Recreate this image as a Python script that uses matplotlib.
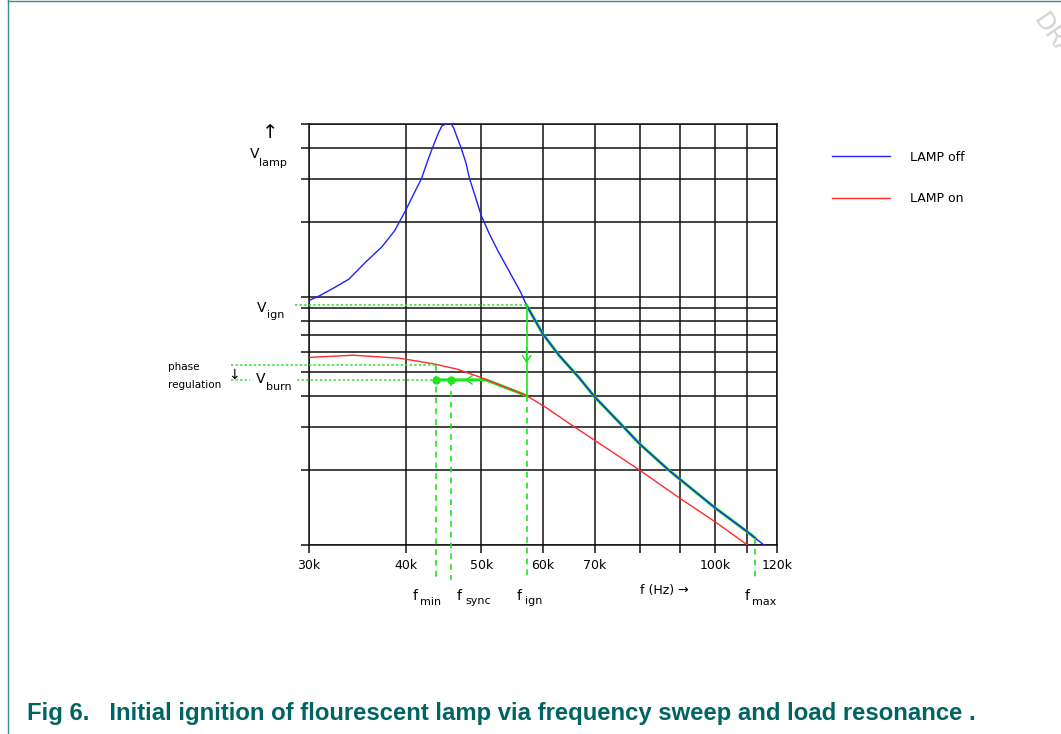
import numpy as np
import matplotlib
matplotlib.use("Agg")
import matplotlib.pyplot as plt
from matplotlib.lines import Line2D

# lamp voltage vs. switching frequency (kHz)
freq_off = [30, 31, 32.2, 33.8, 35.5, 37.25, 38.7, 40, 41.07, 41.9, 42.7, 43.3,
            44.0, 44.5, 45.2, 45.73, 46.1, 46.6, 47.1, 47.8, 48.3, 49.0, 50,
            51.2, 52.5, 53.8, 56.2, 57.2, 60, 63, 66.8, 70, 75.7, 80, 87.2,
            100, 110, 115.5]
volt_off = [9.66, 10.12, 10.8, 11.8, 13.8, 15.9, 18.5, 22.4, 26.5, 30, 35.6, 40,
            45.4, 48.9, 50, 49.9, 47.9, 43.6, 40, 34.6, 30, 26.1, 21.3,
            18.0, 15.4, 13.4, 10.45, 9.24, 7.1, 5.8, 4.73, 3.95, 3.06, 2.55, 2.0,
            1.41, 1.13, 1.0]

freq_on = [30, 34.2, 39.3, 43.6, 46.6, 50, 57.2, 60.6, 65.5, 70, 80, 90, 100, 110]
volt_on = [5.70, 5.82, 5.66, 5.36, 5.11, 4.73, 4.0, 3.58, 3.03, 2.64, 2.0, 1.545,
           1.24, 1.0]

# operating points
f_min, f_sync, f_ign, f_max = 43.7, 45.7, 57.2, 112.6
v_ign, v_burn, v_phase = 9.24, 4.63, 5.32
f_knee = 50.7          # where the burn voltage meets the LAMP on curve
f_arrow = 47.6         # sweep direction arrow on V_burn
v_arrow = 5.4          # drop arrow on f_ign

x_grid = [30, 40, 50, 60, 70, 80, 90, 100, 110, 120]
x_labels = ["30k", "40k", "50k", "60k", "70k", "", "", "100k", "", "120k"]
y_grid = [1, 2, 3, 4, 5, 6, 7, 8, 9, 10, 20, 30, 40, 50]

W, H = 1061, 734
GREEN = "#1ee61e"
TEAL = "#006463"


def fx(x):
    return x / W


def fy(y):
    return 1 - y / H


def loginterp(f, fs, vs):
    return np.exp(np.interp(np.log(f), np.log(fs), np.log(vs)))


fig = plt.figure(figsize=(W / 100, H / 100), dpi=100)
ax = fig.add_axes([fx(308.7), fy(545), fx(776.8 - 308.7), (545 - 123.5) / H])
ax.set_xscale("log")
ax.set_yscale("log")
ax.set_xlim(30, 120)
ax.set_ylim(1, 50)
ax.minorticks_off()
ax.set_xticks(x_grid, x_labels)
ax.set_yticks(y_grid, [""] * len(y_grid))
ax.tick_params(direction="out", length=5.8, width=1.1, color="#111111",
               labelsize=9, pad=4)
ax.grid(True, color="#111111", lw=1.1)
for s in ax.spines.values():
    s.set_linewidth(1.1)
    s.set_color("#111111")

# ignition path (green, under the blue curve)
ign_f = [f_ign] + [f for f in freq_off if f_ign < f < f_max] + [f_max]
ax.plot(ign_f, loginterp(ign_f, freq_off, volt_off), color=GREEN, lw=2.2,
        zorder=3)
burn_f = [f_ign] + [f for f in freq_on if f_knee < f < f_ign][::-1] + [f_knee]
burn_v = list(loginterp(burn_f, freq_on, volt_on))
burn_v[-1] = v_burn
ax.plot(burn_f + [f_min], burn_v + [v_burn], color=GREEN, lw=2.2, zorder=3)

l_off, = ax.plot(freq_off, volt_off, color="#2020ff", lw=1.0, zorder=4,
                 label="LAMP off")
l_on, = ax.plot(freq_on, volt_on, color="#ff2a2a", lw=1.0, zorder=4,
                label="LAMP on")

# green construction lines
v_low = 0.722
ax.plot([f_ign, f_ign], [v_ign, loginterp(f_ign, freq_on, volt_on)],
        color=GREEN, lw=1.2, zorder=5, clip_on=False)
ax.annotate("", xy=(f_ign, v_arrow), xytext=(f_ign, 6.3),
            arrowprops=dict(arrowstyle="->,head_length=0.45,head_width=0.3",
                            color=GREEN, lw=1.1, shrinkA=0, shrinkB=0))
ax.annotate("", xy=(f_arrow, v_burn), xytext=(49.2, v_burn),
            arrowprops=dict(arrowstyle="->,head_length=0.45,head_width=0.3",
                            color=GREEN, lw=1.1, shrinkA=0, shrinkB=0))
ax.plot([f_min, f_sync], [v_burn, v_burn], "o", color=GREEN, ms=5, zorder=6)

dash = dict(color=GREEN, lw=1.2, dashes=(3.5, 3), clip_on=False, zorder=5)
ax.plot([f_min, f_min], [v_phase, v_low], **dash)
ax.plot([f_sync, f_sync], [v_burn, v_low], **dash)
ax.plot([f_ign, f_ign], [loginterp(f_ign, freq_on, volt_on), v_low], **dash)
ax.plot([f_max, f_max], [loginterp(f_max, freq_off, volt_off), v_low], **dash)

dot = dict(color=GREEN, lw=1.1, dashes=(1.5, 1.5), clip_on=False, zorder=5)
ax.plot([28.8, f_ign], [v_ign, v_ign], **dot)
ax.plot([23.8, f_min], [v_phase, v_phase], **dot)
ax.plot([23.8, 25.2], [v_burn, v_burn], **dot)
ax.plot([28.95, f_min], [v_burn, v_burn], **dot)

# labels
def sub_label(x, y, main, sub, xs, ys, size=10, subsize=8):
    fig.text(fx(x), fy(y), main, fontsize=size, va="baseline")
    fig.text(fx(xs), fy(ys), sub, fontsize=subsize, va="baseline")


sub_label(250, 158, "V", "lamp", 259, 166)
sub_label(257, 312, "V", "ign", 267, 318)
sub_label(256, 383, "V", "burn", 266, 390)
sub_label(413, 600, "f", "min", 420, 605)
sub_label(457, 600, "f", "sync", 465, 604)
sub_label(517, 600, "f", "ign", 525, 604)
sub_label(745, 600, "f", "max", 752, 605)
fig.text(fx(270), fy(133), "\u2191", fontsize=14, ha="center", va="center")
fig.text(fx(234), fy(375), "\u2193", fontsize=10, ha="center", va="center")
fig.text(fx(168), fy(370), "phase", fontsize=7.5, va="baseline")
fig.text(fx(168), fy(388), "regulation", fontsize=7.5, va="baseline")
fig.text(fx(640), fy(594), "f (Hz) \u2192", fontsize=9, va="baseline")

fig.legend(handles=[l_off, l_on], loc="center left",
           bbox_to_anchor=(fx(832), fy(178)), frameon=False, fontsize=9,
           handlelength=4.6, handletextpad=1.6, labelspacing=2.3,
           borderpad=0, borderaxespad=0)

fig.text(fx(27), fy(720), "Fig 6.   Initial ignition of flourescent lamp via "
         "frequency sweep and load resonance .", fontsize=17.2, fontweight="bold",
         family=["Liberation Sans", "DejaVu Sans"], color=TEAL, va="baseline")

# watermark in the page corner (cut off by the page edge, as in the original)
fig.text(fx(1048), fy(9), "DRAFT", fontsize=17, color="#d4d4d4", rotation=-55,
         rotation_mode="anchor", ha="left", va="top")

# page frame
fig.add_artist(Line2D([fx(8), fx(8)], [0, 1], color="#3c8c8c", lw=1.0))
fig.add_artist(Line2D([fx(8), 1], [fy(1), fy(1)], color="#3c8c8c", lw=1.0))

fig.savefig("out.png", dpi=100)
